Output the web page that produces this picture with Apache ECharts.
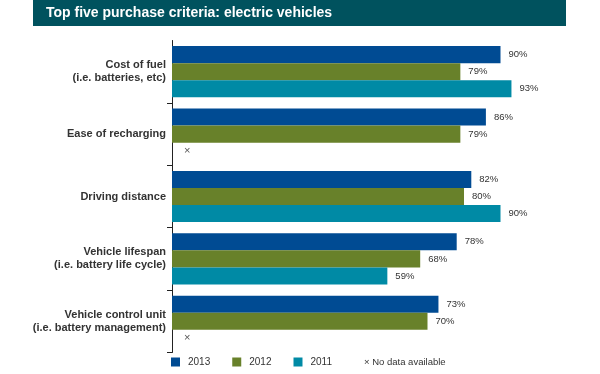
<!DOCTYPE html>
<html>
<head>
<meta charset="utf-8">
<script src="https://cdn.jsdelivr.net/npm/echarts@6/dist/echarts.min.js"></script>
<style>
html,body{margin:0;padding:0;background:#fff;}
#c{width:600px;height:374px;}
</style>
</head>
<body>
<div id="c"></div>
<script>
var categories = ["Cost of fuel\n(i.e. batteries, etc)", "Ease of recharging", "Driving distance", "Vehicle lifespan\n(i.e. battery life cycle)", "Vehicle control unit\n(i.e. battery management)"];
var seriesNames = ["2013", "2012", "2011"];
var values2013 = [90, 86, 82, 78, 73];
var values2012 = [79, 79, 80, 68, 70];
var values2011 = [93, null, 90, 59, null];
var colors = ["#004B93", "#68812A", "#008AA5"];
var titleText = "Top five purchase criteria: electric vehicles";
var noDataText = "× No data available";

function buildData(arr) {
  return arr.map(function (v) {
    if (v === null) {
      return {
        value: 0,
        label: { formatter: "×", distance: 12, fontSize: 11, color: "#555" }
      };
    }
    return v;
  });
}

var allValues = [values2013, values2012, values2011];
var series = seriesNames.map(function (name, i) {
  return {
    name: name,
    type: "bar",
    data: buildData(allValues[i]),
    barGap: "0%",
    barCategoryGap: "18%",
    itemStyle: { color: colors[i] },
    label: {
      show: true,
      position: "right",
      distance: 8,
      formatter: "{c}%",
      fontFamily: "Arial, Liberation Sans, sans-serif",
      fontSize: 9.5,
      color: "#333"
    },
    animation: false
  };
});

var chart = echarts.init(document.getElementById("c"), null, { renderer: "canvas" });
chart.setOption({
  animation: false,
  graphic: [
    { type: "rect", shape: { x: 33, y: 0, width: 533, height: 26 }, style: { fill: "#00525E" } },
    { type: "text", left: 46, top: 6, style: { text: titleText, fill: "#fff", font: "bold 14px Arial, Liberation Sans, sans-serif" } },
    { type: "text", left: 364, top: 357, style: { text: noDataText, fill: "#333", font: "9.5px Arial, Liberation Sans, sans-serif" } }
  ],
  legend: {
    left: 171,
    top: 357,
    padding: 0,
    itemWidth: 9,
    itemHeight: 9,
    itemGap: 22,
    icon: "rect",
    textStyle: { fontFamily: "Arial, Liberation Sans, sans-serif", fontSize: 10, color: "#333", padding: [0, 0, 0, 3] },
    data: seriesNames
  },
  grid: { left: 172, right: 63, top: 40.5, bottom: 21.5, containLabel: false },
  xAxis: {
    type: "value",
    min: 0,
    max: 100,
    show: false
  },
  yAxis: {
    type: "category",
    inverse: true,
    data: categories,
    axisLine: { show: true, lineStyle: { color: "#222", width: 1 } },
    axisTick: {
      show: true,
      length: 5,
      interval: function (index) { return index > 0; },
      lineStyle: { color: "#222" }
    },
    axisLabel: {
      margin: 6,
      fontFamily: "Arial, Liberation Sans, sans-serif",
      fontWeight: "bold",
      fontSize: 11,
      lineHeight: 13,
      color: "#333",
      align: "right"
    }
  },
  series: series
});
</script>
</body>
</html>
